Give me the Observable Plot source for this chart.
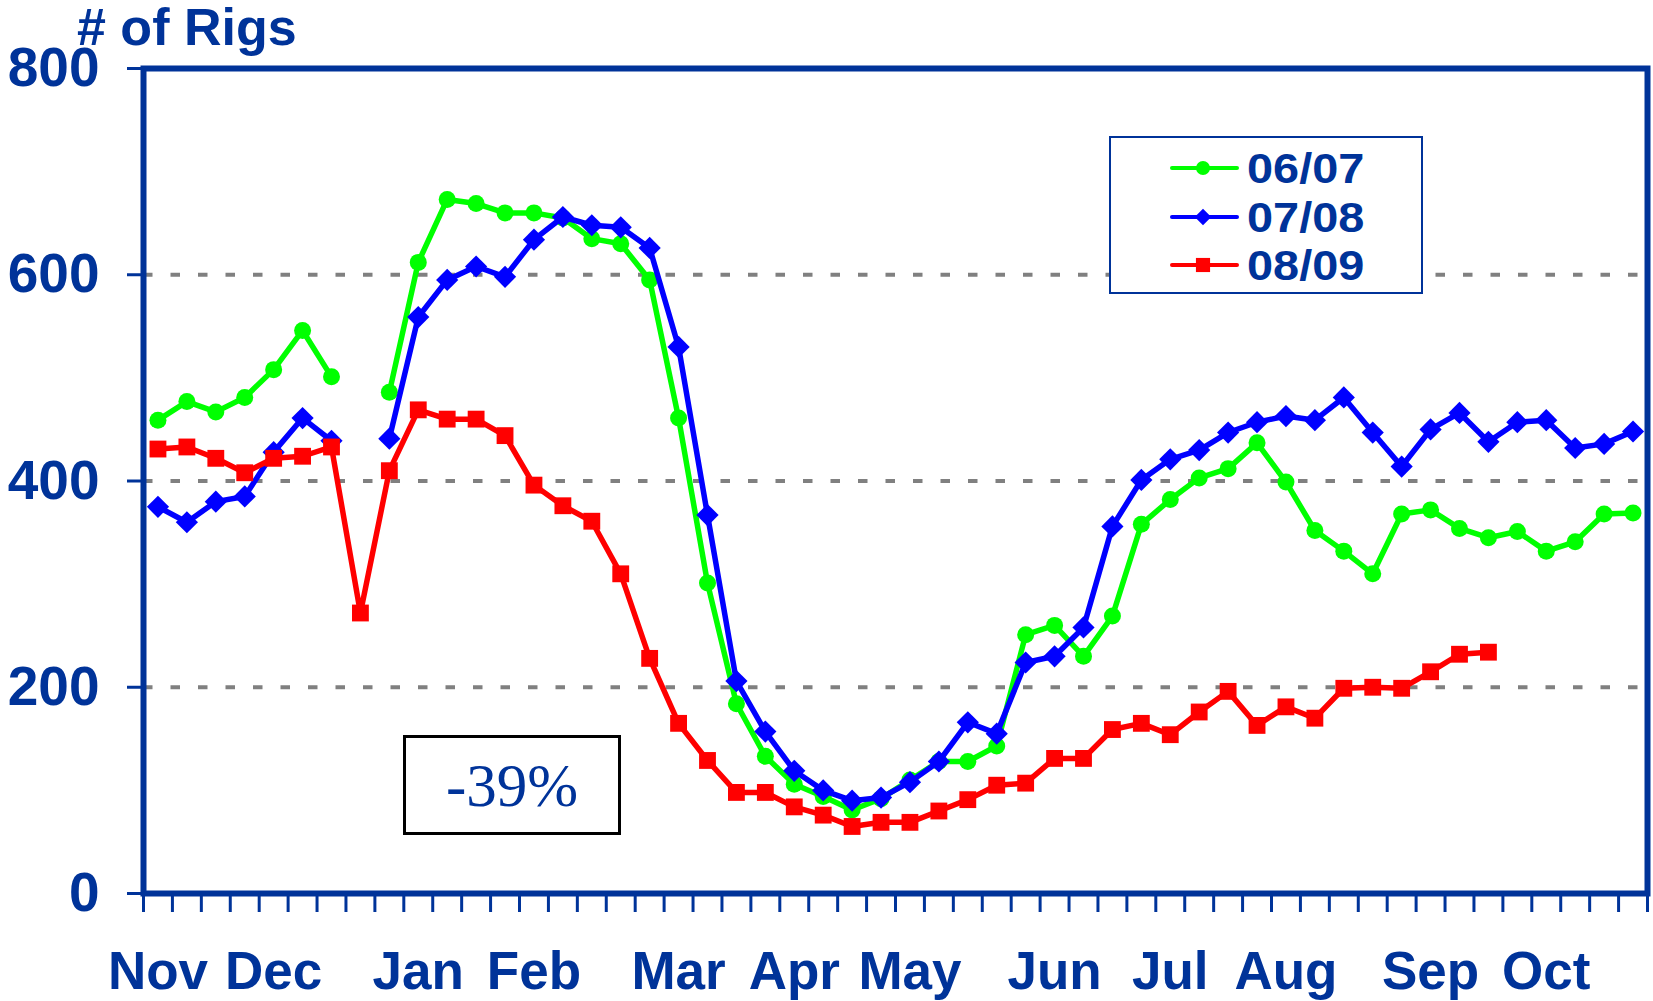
<!DOCTYPE html>
<html>
<head>
<meta charset="utf-8">
<script src="https://cdn.jsdelivr.net/npm/d3@7"></script>
<script src="https://cdn.jsdelivr.net/npm/@observablehq/plot@0.6"></script>
<style>
  body { margin: 0; background: #fff; }
  #wrap { position: relative; width: 1653px; height: 1001px; font-family: "Liberation Sans", Arial, sans-serif; }
  #wrap svg { position: absolute; left: 0; top: 0; }
  .title { position: absolute; left: 77px; top: 1px; font-size: 52px; line-height: 52px; font-weight: bold; color: #003399; white-space: nowrap; }
  .legend { position: absolute; left: 1109px; top: 136px; width: 314px; height: 158px; box-sizing: border-box; border: 2px solid #003399; background: #fff; }
  .legend .row { position: absolute; left: 0; height: 44px; display: flex; align-items: center; }
  .legend .row svg { position: static; display: block; }
  .legend .lbl { position: absolute; left: 136px; top: 2px; height: 40px; font-size: 43px; line-height: 40px; font-weight: bold; color: #003399; white-space: nowrap; transform: scaleX(1.09); transform-origin: left center; }
  .note { position: absolute; left: 403px; top: 735px; width: 218px; height: 100px; box-sizing: border-box; border: 3px solid #000; background: #fff; display: flex; align-items: center; justify-content: center; font-family: "Liberation Serif", "Times New Roman", serif; font-size: 61px; line-height: 1; color: #003399; }
</style>
</head>
<body>
<div id="wrap"></div>
<script>
// ---- data ----
const weeks = d3.range(52);
const monthTickWeeks = [0, 4, 9, 13, 18, 22, 26, 31, 35, 39, 44, 48];
const monthLabels = ["Nov", "Dec", "Jan", "Feb", "Mar", "Apr", "May", "Jun", "Jul", "Aug", "Sep", "Oct"];
const seriesNames = ["06/07", "07/08", "08/09"];
const seriesColors = ["#00ff00", "#0000ff", "#ff0000"];
const seriesSymbols = ["circle", "diamond2", "square"];
const rigs0607 = [459, 477, 467, 481, 508, 546, 501, null, 486, 612, 673, 669, 660, 660, 655, 635, 630, 595, 461, 301,
  184, 133, 106, 94, 81, 92, 110, 128, 128, 143, 251, 260, 230, 269, 358, 382, 403, 412, 437, 399,
  352, 332, 310, 368, 372, 354, 345, 351, 332, 341, 368, 369];
const rigs0708 = [375, 360, 380, 385, 428, 461, 439, null, 441, 559, 595, 608, 598, 634, 656, 648, 646, 626, 530, 367,
  206, 157, 119, 100, 90, 93, 108, 128, 166, 155, 224, 230, 258, 356, 401, 421, 430, 447, 457, 463,
  459, 481, 447, 414, 450, 466, 438, 457, 459, 432, 436, 448];
const rigs0809 = [431, 433, 422, 408, 422, 424, 433, 272, 410, 469, 460, 460, 444, 396, 376, 361, 310, 228, 165, 129,
  98, 98, 84, 76, 65, 69, 69, 80, 91, 105, 107, 131, 131, 159, 165, 154, 176, 196, 163, 181,
  170, 199, 200, 199, 215, 232, 234, null, null, null, null, null];
const yTicks = [0, 200, 400, 600, 800];
const gridValues = [200, 400, 600];
const noteText = "-39%";
const titleText = "# of Rigs";

// ---- build ----
const navy = "#003399";
const allSeries = [rigs0607, rigs0708, rigs0809];
const tables = allSeries.map((vals, s) =>
  weeks.map(w => ({week: w, rigs: vals[w] == null ? NaN : vals[w], series: seriesNames[s]}))
);
const boundaryTicks = d3.range(-0.5, 52, 1);
const dotR = [8.5, 10, 9.5];

const marks = [
  Plot.ruleY(gridValues, {stroke: "#808080", strokeWidth: 4, strokeDasharray: "9.5 18"}),
  Plot.axisY(yTicks, {tickSize: 16, tickPadding: 28, fontSize: 55, fontWeight: "bold",
    fill: navy, stroke: navy, strokeWidth: 3, label: null}),
  Plot.axisX(boundaryTicks, {tickSize: 19, tickFormat: () => "", stroke: navy, strokeWidth: 3, label: null}),
  Plot.axisX(monthTickWeeks, {tickSize: 0, tickPadding: 58, fontSize: 53, fontWeight: "bold",
    fill: navy, tickFormat: w => monthLabels[monthTickWeeks.indexOf(w)], label: null}),
  Plot.frame({stroke: navy, strokeWidth: 6})
];
tables.forEach((t, s) => {
  marks.push(Plot.line(t, {x: "week", y: "rigs", stroke: seriesColors[s], strokeWidth: 5.5, strokeLinejoin: "round"}));
  marks.push(Plot.dot(t, {x: "week", y: "rigs", symbol: seriesSymbols[s], r: dotR[s], fill: seriesColors[s], stroke: "none"}));
});

const chart = Plot.plot({
  width: 1653,
  height: 1001,
  marginLeft: 143,
  marginRight: 6,
  marginTop: 68,
  marginBottom: 108,
  style: {fontFamily: "'Liberation Sans', Arial, sans-serif", background: "transparent", color: navy},
  x: {type: "linear", domain: [-0.5, 51.5]},
  y: {type: "linear", domain: [0, 800]},
  marks
});

const wrap = document.getElementById("wrap");
wrap.appendChild(chart);

// title
const title = document.createElement("div");
title.className = "title";
title.textContent = titleText;
wrap.appendChild(title);

// legend
const legend = document.createElement("div");
legend.className = "legend";
const rowCenters = [30, 78.5, 127];
seriesNames.forEach((name, i) => {
  const row = document.createElement("div");
  row.className = "row";
  row.style.top = (rowCenters[i] - 22) + "px";
  row.style.width = "300px";
  const svgNS = "http://www.w3.org/2000/svg";
  const svg = document.createElementNS(svgNS, "svg");
  svg.setAttribute("width", 140);
  svg.setAttribute("height", 44);
  const line = document.createElementNS(svgNS, "line");
  line.setAttribute("x1", 61); line.setAttribute("x2", 126);
  line.setAttribute("y1", 22); line.setAttribute("y2", 22);
  line.setAttribute("stroke", seriesColors[i]);
  line.setAttribute("stroke-width", 4);
  line.setAttribute("stroke-linecap", "round");
  svg.appendChild(line);
  const sym = document.createElementNS(svgNS, "path");
  const symType = [d3.symbolCircle, d3.symbolDiamond2, d3.symbolSquare][i];
  const size = [Math.PI * 7 * 7, 175, 200][i];
  sym.setAttribute("d", d3.symbol(symType, size)());
  sym.setAttribute("transform", "translate(92,22)");
  sym.setAttribute("fill", seriesColors[i]);
  svg.appendChild(sym);
  row.appendChild(svg);
  const lbl = document.createElement("div");
  lbl.className = "lbl";
  lbl.textContent = name;
  row.appendChild(lbl);
  legend.appendChild(row);
});
wrap.appendChild(legend);

// note box
const note = document.createElement("div");
note.className = "note";
note.textContent = noteText;
wrap.appendChild(note);
</script>
</body>
</html>
